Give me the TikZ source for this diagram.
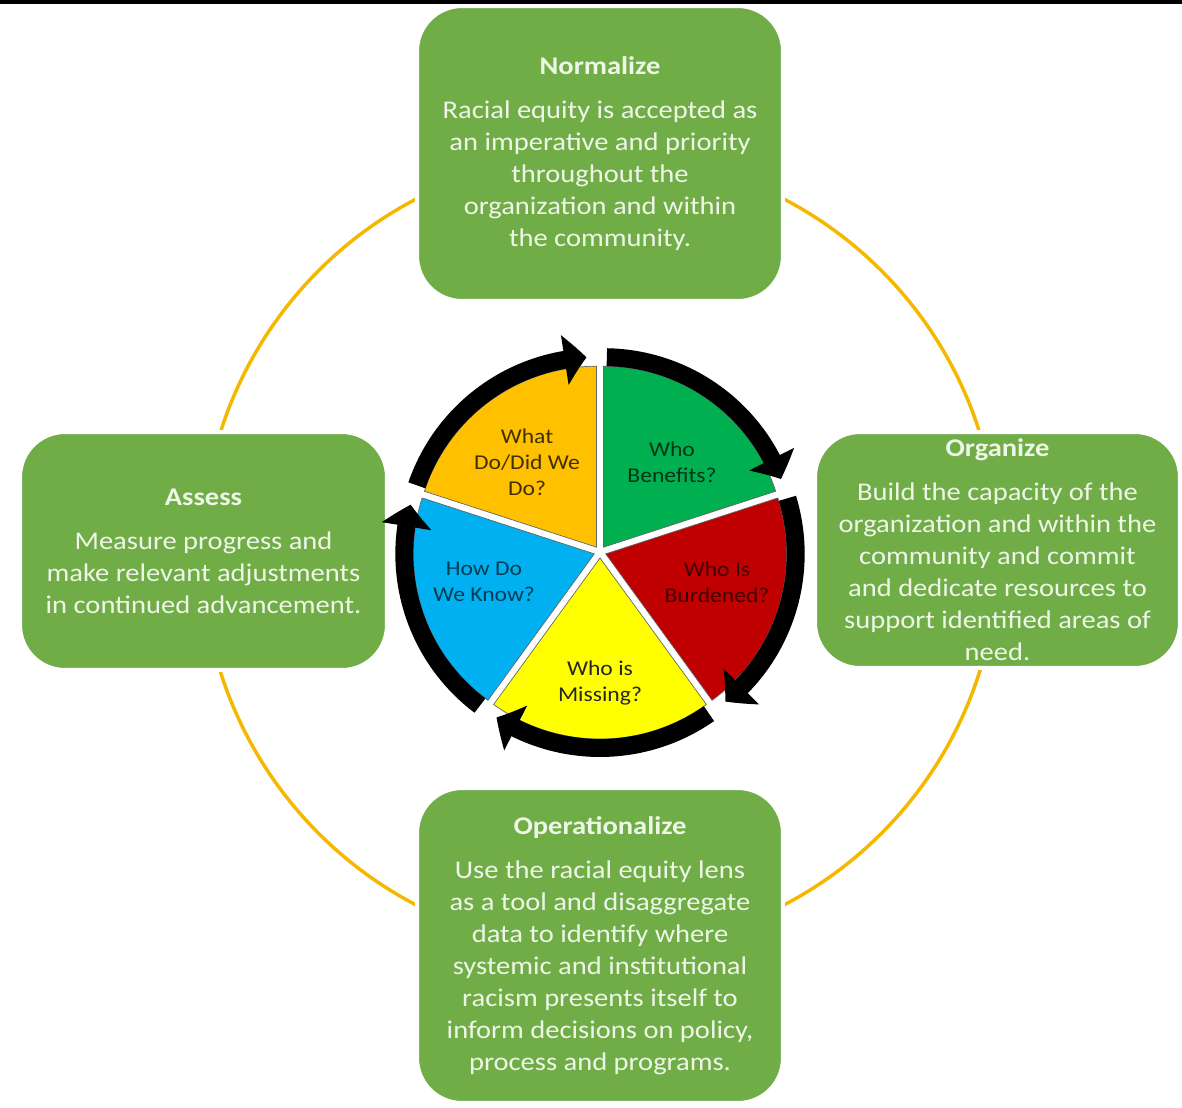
\documentclass[tikz,border=0pt]{standalone}
\usepackage{fontspec}
\setmainfont{Carlito}[FakeStretch=1.12]
\usetikzlibrary{arrows.meta,bending}

\definecolor{boxgreen}{HTML}{70AD47}
\definecolor{boxtext}{HTML}{EEF6E8}
\definecolor{cyclegold}{HTML}{F5B800}
\definecolor{wgreen}{HTML}{00B050}
\definecolor{wred}{HTML}{C00000}
\definecolor{wyellow}{HTML}{FFFF00}
\definecolor{wblue}{HTML}{00B0F0}
\definecolor{worange}{HTML}{FFC000}

\begin{document}
\begin{tikzpicture}[x=0.02cm, y=-0.02cm,
	stage/.style={fill=boxgreen, draw=white, line width=0.08cm,
		rounded corners=0.9cm, align=center, text=boxtext, inner sep=0pt,
		font=\fontsize{14.5}{18.2}\selectfont},
	question/.style={align=center, font=\fontsize{12}{14.8}\selectfont}]
\useasboundingbox (0,0) rectangle (1182,1107);
% Black band on top
\fill [black] (0,0) rectangle (1182,4);
% Cycle line behind the four stages
\coordinate (wheel) at (600,552);
\draw [cyclegold, line width=0.07cm] (wheel) circle [radius=7.96cm];
% Stages
\node [stage, minimum width=7.32cm, minimum height=5.9cm] (normalize) at (600,153.5)
	{{\bfseries Normalize}\\[0.24cm] Racial equity is accepted as\\ an imperative and priority\\
	throughout the\\ organization and within\\ the community.};
\node [stage, minimum width=7.3cm, minimum height=4.72cm] (organize) at (997.5,550)
	{{\bfseries Organize}\\[0.24cm] Build the capacity of the\\ organization and within the\\
	community and commit\\ and dedicate resources to\\ support identified areas of\\ need.};
\node [stage, minimum width=7.32cm, minimum height=6.3cm] (operationalize) at (600,945.5)
	{{\bfseries Operationalize}\\[0.24cm] Use the racial equity lens\\ as a tool and disaggregate\\
	data to identify where\\ systemic and institutional\\ racism presents itself to\\
	inform decisions on policy,\\ process and programs.};
\node [stage, minimum width=7.34cm, minimum height=4.76cm] (assess) at (203.5,551)
	{{\bfseries Assess}\\[0.24cm] Measure progress and\\ make relevant adjustments\\
	in continued advancement.};
% Wheel: five wedges, each with its own arrow on the rim
\foreach \s/\col in {90/wgreen, 18/wred, -54/wyellow, -126/wblue, 162/worange}{
	\begin{scope}[shift={(wheel)}, x=1cm, y=1cm, shift={(\s-36:0.12)}]
		\filldraw [fill=\col, draw=black!60, line width=0.4pt]
			(0,0) -- (\s:3.62) arc [start angle=\s, end angle=\s-72, radius=3.62cm] -- cycle;
		\draw [line width=0.36cm, -{Triangle[length=0.44cm, width=0.98cm, bend]}]
			(\s-1:3.8) arc [start angle=\s-1, end angle=\s-69, radius=3.8cm];
	\end{scope}
}
% Questions
\node [question, text=worange!25!black] (what) at (527,462) {What\\ Do/Did We\\ Do?};
\node [question, text=wgreen!30!black] (benefits) at (672,462) {Who\\ Benefits?};
\node [question, text=wred!35!black] (burdened) at (717,582) {Who Is\\ Burdened?};
\node [question, text=black!85] (missing) at (600,683) {Who is\\ Missing?};
\node [question, text=wblue!35!black] (know) at (484,582) {How Do\\ We Know?};
\end{tikzpicture}
\end{document}
